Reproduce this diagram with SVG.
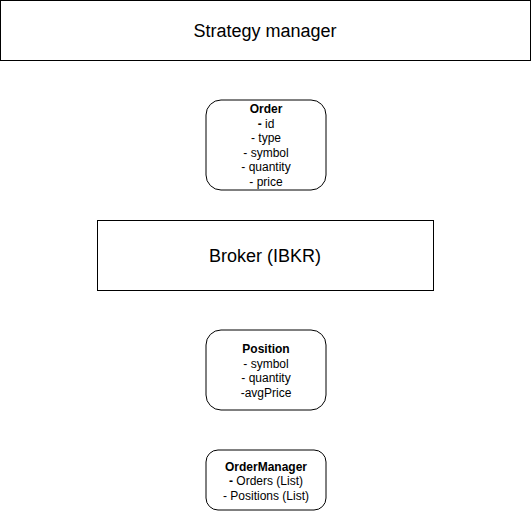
<svg xmlns="http://www.w3.org/2000/svg" width="531" height="512" viewBox="0 0 531 512">
<style>
.box{fill:#fff;stroke:#000;stroke-width:1}
.t{font-family:"Liberation Sans",Arial,sans-serif;fill:#000;text-anchor:middle}
.s{font-size:12px}
.b{font-weight:bold}
</style>
<rect width="531" height="512" fill="#fff"/>
<g id="connectors"></g>
<g id="strategy-manager">
<rect class="box" x="0.5" y="0.5" width="530" height="60"/>
<text class="t" x="265" y="37" font-size="18">Strategy manager</text>
</g>
<g id="order">
<rect class="box" x="206" y="100" width="120" height="90" rx="15" ry="15"/>
<text class="t s" x="266" y="113"><tspan class="b">Order</tspan></text>
<text class="t s" x="266" y="127.5"><tspan class="b">-</tspan> id</text>
<text class="t s" x="266" y="142">- type</text>
<text class="t s" x="266" y="156.5">- symbol</text>
<text class="t s" x="266" y="171">- quantity</text>
<text class="t s" x="266" y="185.5">- price</text>
</g>
<g id="broker">
<rect class="box" x="97.5" y="220.5" width="336" height="70"/>
<text class="t" x="265" y="262" font-size="18">Broker (IBKR)</text>
</g>
<g id="position">
<rect class="box" x="206" y="330" width="120" height="80" rx="15" ry="15"/>
<text class="t s b" x="266" y="353">Position</text>
<text class="t s" x="266" y="367.5">- symbol</text>
<text class="t s" x="266" y="382">- quantity</text>
<text class="t s" x="266" y="396.5">-avgPrice</text>
</g>
<g id="order-manager">
<rect class="box" x="206" y="450" width="120" height="60" rx="12" ry="12"/>
<text class="t s b" x="266" y="470.5">OrderManager</text>
<text class="t s" x="266" y="485"><tspan class="b">-</tspan> Orders (List)</text>
<text class="t s" x="266" y="499.5">- Positions (List)</text>
</g>
</svg>
